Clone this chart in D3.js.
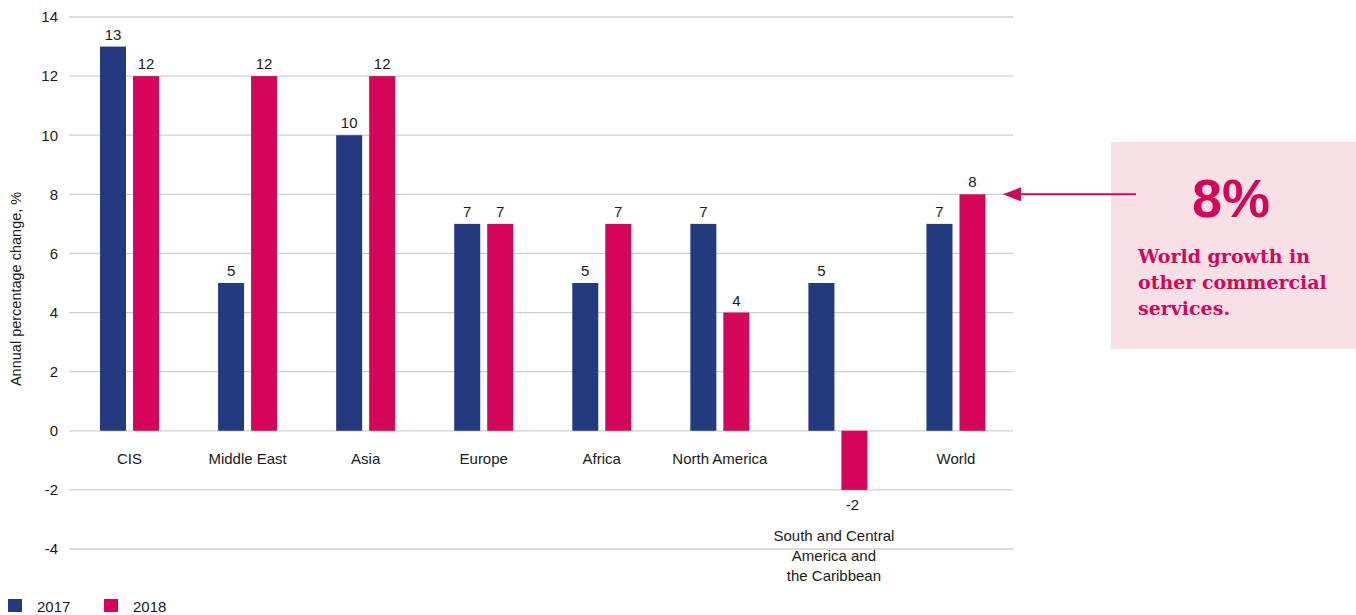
<!DOCTYPE html>
<html>
<head>
<meta charset="utf-8">
<script src="https://cdn.jsdelivr.net/npm/d3@7/dist/d3.min.js"></script>
<style>
  html, body { margin: 0; padding: 0; background: #fff; }
  svg { display: block; }
  text { font-family: "Liberation Sans", Arial, sans-serif; }
</style>
</head>
<body>
<svg id="chart" width="1356" height="615"></svg>
<script>
// Annual percentage change in other commercial services exports, by region
const categories = ["CIS", "Middle East", "Asia", "Europe", "Africa", "North America",
  "South and Central|America and|the Caribbean", "World"];
const values2017 = [13, 5, 10, 7, 5, 7, 5, 7];
const values2018 = [12, 12, 12, 7, 7, 4, -2, 8];
const seriesNames = ["2017", "2018"];
const yTicks = [-4, -2, 0, 2, 4, 6, 8, 10, 12, 14];
const highlightValue = 8;

const colors = { "2017": "#233a7e", "2018": "#d5065a" };
const ink = "#1a1a1a";

const svg = d3.select("#chart");

const x = d3.scaleBand().domain(categories).range([70.5, 1015]);
const y = d3.scaleLinear().domain([-4, 14]).range([549, 17]);

// Gridlines
const grid = svg.append("g");
grid.selectAll("line").data(yTicks).join("line")
  .attr("x1", 69).attr("x2", 1013)
  .attr("y1", d => y(d)).attr("y2", d => y(d))
  .attr("stroke", "#cfcfcf").attr("stroke-width", 1.3);

// Y tick labels via axis
const yAxis = svg.append("g").attr("transform", "translate(69,0)")
  .call(d3.axisLeft(y).tickValues(yTicks).tickSize(0).tickPadding(11).tickFormat(d => String(d)));
yAxis.select(".domain").remove();
yAxis.selectAll("text").style("font-size", "15px").attr("fill", ink)
  .style("font-family", "Liberation Sans, Arial, sans-serif");

// Y axis title
svg.append("text")
  .attr("transform", `translate(21,${y(4.8)}) rotate(-90)`)
  .attr("text-anchor", "middle")
  .attr("fill", ink)
  .style("font-size", "14.5px")
  .text("Annual percentage change, %");

const rows = categories.map((c, i) => ({ cat: c, v: [values2017[i], values2018[i]] }));
const inner = d3.scaleBand().domain(seriesNames).range([-29.5, 29.5]).paddingInner(7 / 33);

const groups = svg.append("g").selectAll("g").data(rows).join("g")
  .attr("transform", d => `translate(${x(d.cat) + x.bandwidth() / 2},0)`);

groups.selectAll("rect").data(d => d.v.map((v, k) => ({ key: seriesNames[k], v })))
  .join("rect")
  .attr("x", d => inner(d.key))
  .attr("width", inner.bandwidth())
  .attr("y", d => y(Math.max(0, d.v)))
  .attr("height", d => Math.abs(y(d.v) - y(0)))
  .attr("fill", d => colors[d.key]);

groups.selectAll("text.val").data(d => d.v.map((v, k) => ({ key: seriesNames[k], v })))
  .join("text").attr("class", "val")
  .attr("x", d => inner(d.key) + inner.bandwidth() / 2 - (d.v < 0 ? 2 : 0))
  .attr("y", d => d.v >= 0 ? y(d.v) - 7 : y(d.v) + 20)
  .attr("text-anchor", "middle")
  .attr("fill", ink)
  .style("font-size", "15px")
  .text(d => d.v);

// Category labels (long names wrap below the lowest bar)
groups.each(function (d) {
  const lines = d.cat.split("|");
  const g = d3.select(this);
  const t = g.append("text").attr("text-anchor", "middle").attr("fill", ink).style("font-size", "15px");
  if (lines.length === 1) {
    t.attr("y", y(0) + 33).text(lines[0]);
  } else {
    lines.forEach((l, i) => {
      t.append("tspan").attr("x", -4).attr("y", 541 + i * 20).text(l);
    });
  }
});

// Legend
const legend = svg.append("g");
seriesNames.forEach((s, i) => {
  const lx = 8 + i * 96;
  legend.append("rect").attr("x", lx).attr("y", 599).attr("width", 14).attr("height", 13)
    .attr("fill", colors[s]);
  legend.append("text").attr("x", lx + 29).attr("y", 612).attr("fill", ink)
    .style("font-size", "15px").text(s);
});

// Callout box
const pink = "#d5065a";
svg.append("rect").attr("x", 1111).attr("y", 142).attr("width", 245).attr("height", 207)
  .attr("fill", "#f8e1e6");
svg.append("text").attr("x", 1231).attr("y", 217).attr("text-anchor", "middle")
  .style("font-size", "54px").style("font-weight", "bold").attr("fill", pink)
  .style("font-family", "Liberation Sans, Arial, sans-serif")
  .text(highlightValue + "%");
const note = svg.append("text").attr("fill", pink)
  .style("font-family", "DejaVu Serif, serif").style("font-weight", "bold").style("font-size", "19px");
["World growth in", "other commercial", "services."].forEach((l, i) => {
  note.append("tspan").attr("x", 1138).attr("y", 263 + i * 26).text(l);
});

// Arrow pointing at the World 2018 bar
const arrowY = y(highlightValue);
svg.append("line").attr("x1", 1136).attr("x2", 1012).attr("y1", arrowY).attr("y2", arrowY)
  .attr("stroke", pink).attr("stroke-width", 2);
svg.append("path")
  .attr("d", `M1003,${arrowY} L1021,${arrowY - 7} L1021,${arrowY + 7} Z`)
  .attr("fill", pink);
</script>
</body>
</html>
